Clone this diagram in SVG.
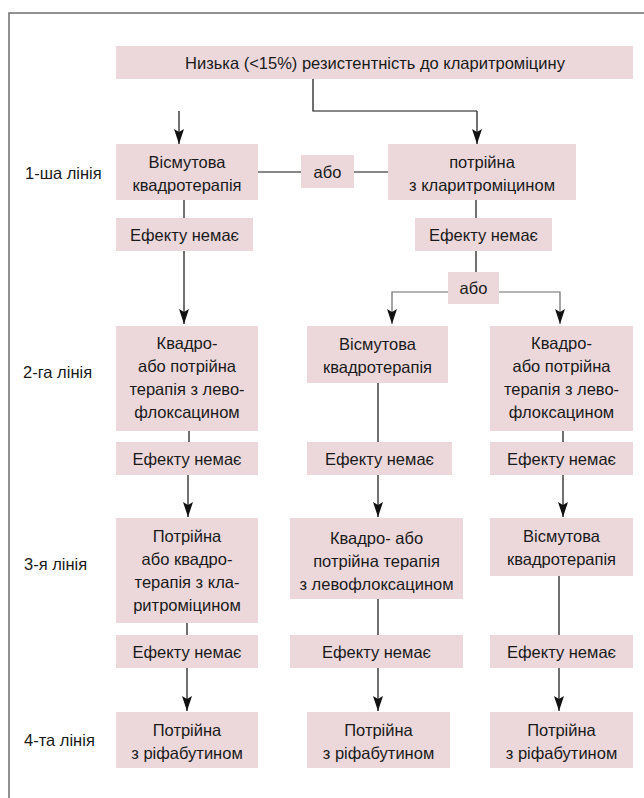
<svg xmlns="http://www.w3.org/2000/svg" width="644" height="798" viewBox="0 0 644 798">
<style>
  .box { fill: #ecd8db; stroke: none; }
  .t { font-family: "Liberation Sans", Arial, sans-serif; font-size: 16.5px; fill: #1a1a1a; text-anchor: middle; }
  .lbl { font-family: "Liberation Sans", Arial, sans-serif; font-size: 16.5px; fill: #1a1a1a; }
  .ln { fill: none; stroke: #111; stroke-width: 1.2; }
  .gl { fill: none; stroke: #6b6b6b; stroke-width: 1.2; }
  .frame { fill: none; stroke: #6e6e6e; stroke-width: 1.5; }
</style>
<defs>
  <marker id="ah" viewBox="0 0 15 10" refX="15" refY="5" markerWidth="15" markerHeight="10" markerUnits="userSpaceOnUse" orient="auto">
    <path d="M0,0 L15,5 L0,10 L3,5 z" fill="#111"/>
  </marker>
</defs>
<rect width="644" height="798" fill="#ffffff"/>
<path class="frame" d="M9,798 V13 H644"/>

<g id="labels">
  <text class="lbl" x="25" y="179">1-ша лінія</text>
  <text class="lbl" x="23" y="378">2-га лінія</text>
  <text class="lbl" x="24" y="570">3-я лінія</text>
  <text class="lbl" x="24" y="746">4-та лінія</text>
</g>

<g id="connectors">
  <path class="ln" d="M313,79 V111 H477"/>
  <path class="ln" d="M179,111 V144" marker-end="url(#ah)"/>
  <path class="ln" d="M477,111 V144" marker-end="url(#ah)"/>
  <path class="ln" d="M258,172 H301 M354,172 H388"/>
  <path class="ln" d="M184,200 V218"/>
  <path class="ln" d="M184,251 V324" marker-end="url(#ah)"/>
  <path class="ln" d="M476,200 V218 M476,251 V272"/>
  <path class="gl" d="M448,292 H392 V324" marker-end="url(#ah)"/>
  <path class="gl" d="M499,292 H560 V324" marker-end="url(#ah)"/>
  <path class="ln" d="M189,431 V442 M378,383 V442 M563,431 V442"/>
  <path class="ln" d="M188,475 V517" marker-end="url(#ah)"/>
  <path class="ln" d="M378,475 V517" marker-end="url(#ah)"/>
  <path class="ln" d="M563,475 V517" marker-end="url(#ah)"/>
  <path class="ln" d="M187,623 V635 M378,599 V635 M559,576 V635"/>
  <path class="ln" d="M187,668 V711" marker-end="url(#ah)"/>
  <path class="ln" d="M378,668 V711" marker-end="url(#ah)"/>
  <path class="ln" d="M559,668 V711" marker-end="url(#ah)"/>
</g>

<g id="n_top">
  <rect class="box" x="116" y="46" width="517" height="33"/>
  <text class="t" x="375" y="68.5">Низька (&lt;15%) резистентність до кларитроміцину</text>
</g>

<g id="n_r1_left">
  <rect class="box" x="116" y="144" width="142" height="56"/>
  <text class="t" x="187" y="168">Вісмутова</text>
  <text class="t" x="187" y="191">квадротерапія</text>
</g>
<g id="n_r1_or">
  <rect class="box" x="301" y="155" width="53" height="33"/>
  <text class="t" x="327.5" y="177.5">або</text>
</g>
<g id="n_r1_right">
  <rect class="box" x="388" y="144" width="188" height="56"/>
  <text class="t" x="482" y="168">потрійна</text>
  <text class="t" x="482" y="191">з кларитроміцином</text>
</g>

<g id="n_e1_left">
  <rect class="box" x="116" y="218" width="137" height="33"/>
  <text class="t" x="184.5" y="240.5">Ефекту немає</text>
</g>
<g id="n_e1_right">
  <rect class="box" x="415" y="218" width="137" height="33"/>
  <text class="t" x="483.5" y="240.5">Ефекту немає</text>
</g>
<g id="n_or2">
  <rect class="box" x="448" y="272" width="51" height="32"/>
  <text class="t" x="473.5" y="293.5">або</text>
</g>

<g id="n_r2_left">
  <rect class="box" x="116" y="326" width="142" height="105"/>
  <text class="t" x="187" y="349">Квадро-</text>
  <text class="t" x="187" y="372">або потрійна</text>
  <text class="t" x="187" y="395">терапія з лево-</text>
  <text class="t" x="187" y="418">флоксацином</text>
</g>
<g id="n_r2_mid">
  <rect class="box" x="307" y="326" width="141" height="57"/>
  <text class="t" x="377.5" y="350">Вісмутова</text>
  <text class="t" x="377.5" y="373">квадротерапія</text>
</g>
<g id="n_r2_right">
  <rect class="box" x="490" y="326" width="143" height="105"/>
  <text class="t" x="561.5" y="349">Квадро-</text>
  <text class="t" x="561.5" y="372">або потрійна</text>
  <text class="t" x="561.5" y="395">терапія з лево-</text>
  <text class="t" x="561.5" y="418">флоксацином</text>
</g>

<g id="n_e2_left">
  <rect class="box" x="116" y="442" width="142" height="33"/>
  <text class="t" x="187" y="464.5">Ефекту немає</text>
</g>
<g id="n_e2_mid">
  <rect class="box" x="307" y="442" width="145" height="33"/>
  <text class="t" x="379.5" y="464.5">Ефекту немає</text>
</g>
<g id="n_e2_right">
  <rect class="box" x="490" y="442" width="143" height="33"/>
  <text class="t" x="561.5" y="464.5">Ефекту немає</text>
</g>

<g id="n_r3_left">
  <rect class="box" x="116" y="518" width="142" height="105"/>
  <text class="t" x="187" y="542">Потрійна</text>
  <text class="t" x="187" y="565">або квадро-</text>
  <text class="t" x="187" y="588">терапія з кла-</text>
  <text class="t" x="187" y="611">ритроміцином</text>
</g>
<g id="n_r3_mid">
  <rect class="box" x="290" y="518" width="173" height="81"/>
  <text class="t" x="376.5" y="544">Квадро- або</text>
  <text class="t" x="376.5" y="567">потрійна терапія</text>
  <text class="t" x="376.5" y="590">з левофлоксацином</text>
</g>
<g id="n_r3_right">
  <rect class="box" x="490" y="518" width="143" height="58"/>
  <text class="t" x="561.5" y="542">Вісмутова</text>
  <text class="t" x="561.5" y="565">квадротерапія</text>
</g>

<g id="n_e3_left">
  <rect class="box" x="116" y="635" width="142" height="33"/>
  <text class="t" x="187" y="657.5">Ефекту немає</text>
</g>
<g id="n_e3_mid">
  <rect class="box" x="290" y="635" width="173" height="33"/>
  <text class="t" x="376.5" y="657.5">Ефекту немає</text>
</g>
<g id="n_e3_right">
  <rect class="box" x="490" y="635" width="143" height="33"/>
  <text class="t" x="561.5" y="657.5">Ефекту немає</text>
</g>

<g id="n_r4_left">
  <rect class="box" x="116" y="712" width="142" height="56"/>
  <text class="t" x="187" y="736">Потрійна</text>
  <text class="t" x="187" y="759">з ріфабутином</text>
</g>
<g id="n_r4_mid">
  <rect class="box" x="307" y="712" width="143" height="56"/>
  <text class="t" x="378.5" y="736">Потрійна</text>
  <text class="t" x="378.5" y="759">з ріфабутином</text>
</g>
<g id="n_r4_right">
  <rect class="box" x="490" y="712" width="143" height="56"/>
  <text class="t" x="561.5" y="736">Потрійна</text>
  <text class="t" x="561.5" y="759">з ріфабутином</text>
</g>
</svg>
